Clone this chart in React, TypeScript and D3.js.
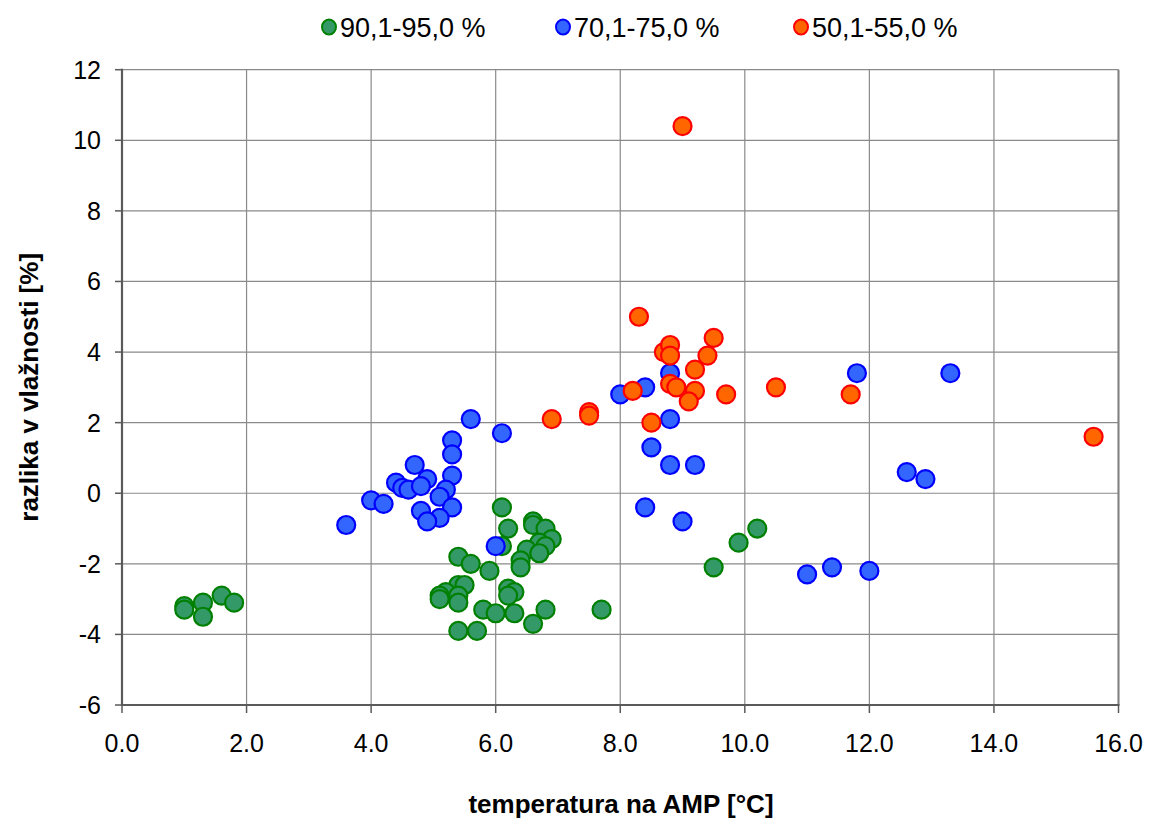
import React from "react";
import * as d3 from "d3";

// Relative-humidity difference vs. temperature on the AMP, grouped by humidity class
const seriesNames = ["90,1-95,0 %", "70,1-75,0 %", "50,1-55,0 %"];

const green: [number, number][] = [
  [1.0, -3.2], [1.0, -3.3], [1.3, -3.1], [1.3, -3.5], [1.6, -2.9], [1.8, -3.1],
  [6.1, -0.4], [6.2, -1.0], [6.1, -1.5], [6.6, -0.8], [6.6, -0.9], [6.8, -1.0],
  [6.9, -1.3], [6.7, -1.4], [6.8, -1.5], [6.5, -1.6], [6.7, -1.7], [6.4, -1.9],
  [6.4, -2.1], [5.4, -1.8], [5.6, -2.0], [5.9, -2.2], [5.4, -2.6], [5.5, -2.6],
  [5.2, -2.8], [5.1, -2.9], [5.1, -3.0], [5.4, -2.9], [5.4, -3.1], [6.2, -2.7],
  [6.3, -2.8], [6.2, -2.9], [5.8, -3.3], [6.0, -3.4], [6.3, -3.4], [6.8, -3.3],
  [6.6, -3.7], [5.4, -3.9], [5.7, -3.9], [7.7, -3.3], [9.5, -2.1], [9.9, -1.4],
  [10.2, -1.0],
];

const blue: [number, number][] = [
  [5.6, 2.1], [6.1, 1.7], [5.3, 1.5], [5.3, 1.1], [4.7, 0.8], [4.9, 0.4],
  [5.3, 0.5], [4.4, 0.3], [4.5, 0.15], [4.6, 0.1], [4.8, 0.2], [5.2, 0.1],
  [5.1, -0.1], [4.0, -0.2], [4.2, -0.3], [5.3, -0.4], [4.8, -0.5], [5.1, -0.7],
  [4.9, -0.8], [3.6, -0.9], [6.0, -1.5],
  [8.8, 3.4], [8.4, 3.0], [8.0, 2.8], [8.8, 2.1], [8.5, 1.3], [8.8, 0.8],
  [9.2, 0.8], [8.4, -0.4], [9.0, -0.8], [11.8, 3.4], [13.3, 3.4], [12.6, 0.6],
  [12.9, 0.4], [11.0, -2.3], [11.4, -2.1], [12.0, -2.2],
];

const orange: [number, number][] = [
  [9.0, 10.4], [8.3, 5.0], [9.5, 4.4], [9.4, 3.9], [9.2, 3.5], [8.7, 4.0],
  [8.8, 4.2], [8.8, 3.9], [8.8, 3.1], [8.9, 3.0], [9.2, 2.9], [9.1, 2.6],
  [9.7, 2.8], [8.2, 2.9], [8.5, 2.0], [7.5, 2.3], [7.5, 2.2], [6.9, 2.1],
  [10.5, 3.0], [11.7, 2.8], [15.6, 1.6],
];

const xTicks = [0, 2, 4, 6, 8, 10, 12, 14, 16];
const yTicks = [-6, -4, -2, 0, 2, 4, 6, 8, 10, 12];

const fills = ["#339966", "#3366ff", "#ff6600"];
const strokes = ["#008000", "#0000ff", "#ff0000"];

const W = 1149;
const H = 819;
const left = 122;
const right = 1118.5;
const top = 69.7;
const bottom = 705;

const FONT = "'Liberation Sans', Arial, sans-serif";

export default function App() {
  const x = d3.scaleLinear().domain([0, 16]).range([left, right]);
  const y = d3.scaleLinear().domain([-6, 12]).range([bottom, top]);
  const series = [green, blue, orange];
  const legendX = [329, 563, 801];

  return (
    <div style={{ position: "absolute", left: 0, top: 0 }}>
      <svg width={W} height={H} style={{ display: "block", background: "#fff" }}>
        {/* grid */}
        {xTicks.map((t) => (
          <line key={"gx" + t} x1={x(t)} x2={x(t)} y1={top} y2={bottom} stroke="#8a8a8a" strokeWidth={1.2} />
        ))}
        {yTicks.map((t) => (
          <line key={"gy" + t} x1={left} x2={right} y1={y(t)} y2={y(t)} stroke="#8a8a8a" strokeWidth={1.2} />
        ))}
        <line x1={right} x2={right} y1={top} y2={bottom} stroke="#808080" strokeWidth={2} />

        {/* axes */}
        <line x1={left} x2={left} y1={top - 1} y2={bottom + 1} stroke="#5a5a5a" strokeWidth={2.2} />
        <line x1={left - 1} x2={right + 1} y1={bottom} y2={bottom} stroke="#5a5a5a" strokeWidth={2.2} />
        {yTicks.map((t) => (
          <line key={"ty" + t} x1={left - 7} x2={left} y1={y(t)} y2={y(t)} stroke="#5a5a5a" strokeWidth={1.5} />
        ))}
        {xTicks.map((t) => (
          <line key={"tx" + t} x1={x(t)} x2={x(t)} y1={bottom} y2={bottom + 8} stroke="#5a5a5a" strokeWidth={1.5} />
        ))}

        {/* tick labels */}
        {yTicks.map((t) => (
          <text key={"ly" + t} x={101} y={y(t) + 9} textAnchor="end" fontFamily={FONT} fontSize={25} fill="#000">
            {String(t)}
          </text>
        ))}
        {xTicks.map((t) => (
          <text key={"lx" + t} x={x(t)} y={752} textAnchor="middle" fontFamily={FONT} fontSize={25} fill="#000">
            {d3.format(".1f")(t)}
          </text>
        ))}

        {/* axis titles */}
        <text x={621} y={813} textAnchor="middle" fontFamily={FONT} fontSize={26} fontWeight="bold">
          temperatura na AMP [°C]
        </text>
        <text
          transform={`translate(38, ${(top + bottom) / 2}) rotate(-90)`}
          textAnchor="middle"
          fontFamily={FONT}
          fontSize={26}
          fontWeight="bold"
        >
          razlika v vlažnosti [%]
        </text>

        {/* points */}
        {series.map((pts, si) => (
          <g key={"s" + si}>
            {pts.map((p, i) => (
              <circle
                key={i}
                cx={x(p[0])}
                cy={y(p[1])}
                r={9}
                fill={fills[si]}
                stroke={strokes[si]}
                strokeWidth={2.2}
              />
            ))}
          </g>
        ))}

        {/* legend */}
        {seriesNames.map((name, i) => (
          <g key={"lg" + i}>
            <ellipse cx={legendX[i]} cy={27} rx={7} ry={7.5} fill={fills[i]} stroke={strokes[i]} strokeWidth={2} />
            <text x={legendX[i] + 11} y={37} fontFamily={FONT} fontSize={27} fill="#000">
              {name}
            </text>
          </g>
        ))}
      </svg>
    </div>
  );
}
